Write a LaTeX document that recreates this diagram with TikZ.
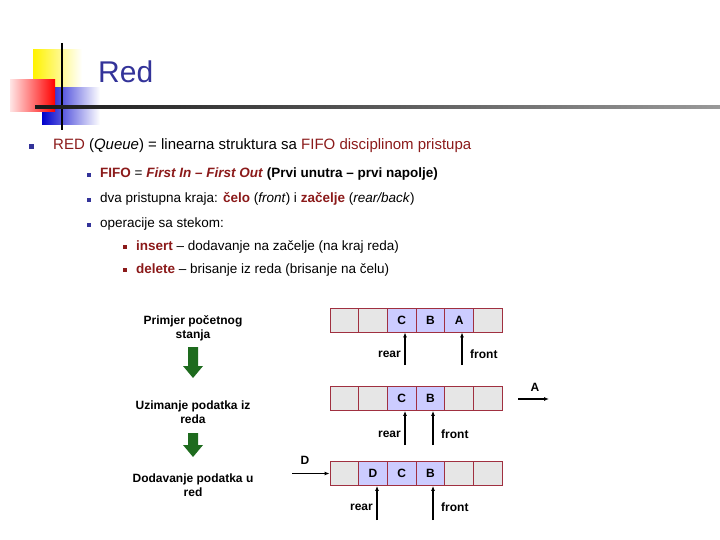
\documentclass[tikz,border=0pt]{standalone}
\usepackage{fontspec}
\setmainfont{Liberation Sans}
\usetikzlibrary{arrows.meta}
\definecolor{ttl}{HTML}{333399}
\definecolor{dr}{HTML}{8B1A1A}
\definecolor{cellb}{HTML}{A03040}
\definecolor{emp}{HTML}{E6E6E6}
\definecolor{full}{HTML}{CCCCFF}
\definecolor{grn}{HTML}{1E6B1E}
\tikzset{
 txt/.style={anchor=west,inner sep=0pt},
 bul/.style={fill=ttl,minimum size=5pt,inner sep=0pt},
 sbul/.style={fill=ttl,minimum size=3.5pt,inner sep=0pt},
 rbul/.style={fill=dr,minimum size=4pt,inner sep=0pt},
 cell/.style={draw=cellb,line width=0.8pt,minimum width=28.7pt,minimum height=24pt,inner sep=0pt,font=\bfseries\fontsize{12}{14}\selectfont},
 ec/.style={cell,fill=emp},
 fc/.style={cell,fill=full},
 lab/.style={font=\bfseries\fontsize{12}{14}\selectfont,inner sep=1pt},
 parr/.style={-{Latex[length=5pt,width=4pt]},line width=1.2pt},
 captxt/.style={font=\bfseries\fontsize{12}{14}\selectfont,align=center,inner sep=0pt}
}
\begin{document}
\begin{tikzpicture}[x=1pt,y=-1pt]
\useasboundingbox (0,0) rectangle (720,540);
% logo
\shade[left color=yellow!90!orange,right color=white] (33,50) rectangle (82,90);
\shade[left color=blue!80!black,right color=white] (42,88) rectangle (100,125);
\shade[left color=red!10,right color=red] (10,80) rectangle (55,112);
\draw[line width=1.5pt] (62,43) -- (62,130);
\shade[left color=black!90,right color=black!40] (35,105.5) rectangle (720,108.5);
\node[txt,text=ttl,font=\fontsize{30}{34}\selectfont] (title) at (98,72) {Red};
% bullets
\node[bul] (b1) at (31,147) {};
\node[txt,font=\fontsize{15}{18}\selectfont] (t1) at (53,146) {\textcolor{dr}{RED} (\textit{Queue}) = linearna struktura sa \textcolor{dr}{FIFO} \textcolor{dr}{disciplinom pristupa}};
\node[sbul] (b2) at (89,175) {};
\node[txt,font=\fontsize{13.5}{16}\selectfont] (t2) at (100,174) {\textcolor{dr}{\textbf{FIFO}} = \textcolor{dr}{\textbf{\textit{First In -- First Out}}} \textbf{(Prvi unutra -- prvi napolje)}};
\node[sbul] (b3) at (89,200) {};
\node[txt,font=\fontsize{13.5}{16}\selectfont] (t3) at (100,199) {dva pristupna kraja: \textcolor{dr}{\textbf{čelo}} (\textit{front}) i \textcolor{dr}{\textbf{začelje}} (\textit{rear/back})};
\node[sbul] (b4) at (89,225) {};
\node[txt,font=\fontsize{13.5}{16}\selectfont] (t4) at (100,224) {operacije sa stekom:};
\node[rbul] (b5) at (125,247) {};
\node[txt,font=\fontsize{13.5}{16}\selectfont] (t5) at (136,247) {\textcolor{dr}{\textbf{insert}} -- dodavanje na začelje (na kraj reda)};
\node[rbul] (b6) at (125,270) {};
\node[txt,font=\fontsize{13.5}{16}\selectfont] (t6) at (136,270) {\textcolor{dr}{\textbf{delete}} -- brisanje iz reda (brisanje na čelu)};
% captions
\node[captxt] (c1) at (193,328) {Primjer početnog\\stanja};
\node[captxt] (c2) at (193,412) {Uzimanje podatka iz\\reda};
\node[captxt] (c3) at (193,485) {Dodavanje podatka u\\red};
\foreach \y/\h in {347/31,433/24}{
 \fill[grn] (193,\y) ++(-5,0) -- ++(10,0) -- ++(0,\h-12) -- ++(5,0) -- ++(-10,12) -- ++(-10,-12) -- ++(5,0) -- cycle;
}
% rows
\foreach \i/\s/\t in {1/ec/,2/ec/,3/fc/C,4/fc/B,5/fc/A,6/ec/}{
 \node[\s] (r1c\i) at (330+14.35+28.7*\i-28.7,320) {\t};
}
\foreach \i/\s/\t in {1/ec/,2/ec/,3/fc/C,4/fc/B,5/ec/,6/ec/}{
 \node[\s] (r2c\i) at (330+14.35+28.7*\i-28.7,398.5) {\t};
}
\foreach \i/\s/\t in {1/ec/,2/fc/D,3/fc/C,4/fc/B,5/ec/,6/ec/}{
 \node[\s] (r3c\i) at (330+14.35+28.7*\i-28.7,473.5) {\t};
}
% pointers
\coordinate (p1r) at (405,365); \coordinate (p1f) at (462,365);
\draw[parr] (p1r) -- (p1r |- r1c3.south);
\draw[parr] (p1f) -- (p1f |- r1c5.south);
\node[lab,anchor=east] (l1r) at (402,354) {rear};
\node[lab,anchor=west] (l1f) at (469,354) {front};
\coordinate (p2r) at (405,445); \coordinate (p2f) at (433,445);
\draw[parr] (p2r) -- (p2r |- r2c3.south);
\draw[parr] (p2f) -- (p2f |- r2c4.south);
\node[lab,anchor=east] (l2r) at (402,434) {rear};
\node[lab,anchor=west] (l2f) at (440,434) {front};
\coordinate (p3r) at (377,520); \coordinate (p3f) at (433,520);
\draw[parr] (p3r) -- (p3r |- r3c2.south);
\draw[parr] (p3f) -- (p3f |- r3c4.south);
\node[lab,anchor=east] (l3r) at (374,507) {rear};
\node[lab,anchor=west] (l3f) at (440,507) {front};
% A out, D in
\coordinate (a0) at (518,399); \coordinate (a1) at (549,399);
\draw[parr] (a0) -- (a1);
\node[lab] (la) at (535,387) {A};
\coordinate (d0) at (292,473.5);
\draw[parr] (d0) -- (r3c1.west);
\node[lab] (ld) at (305,460) {D};
\end{tikzpicture}
\end{document}
